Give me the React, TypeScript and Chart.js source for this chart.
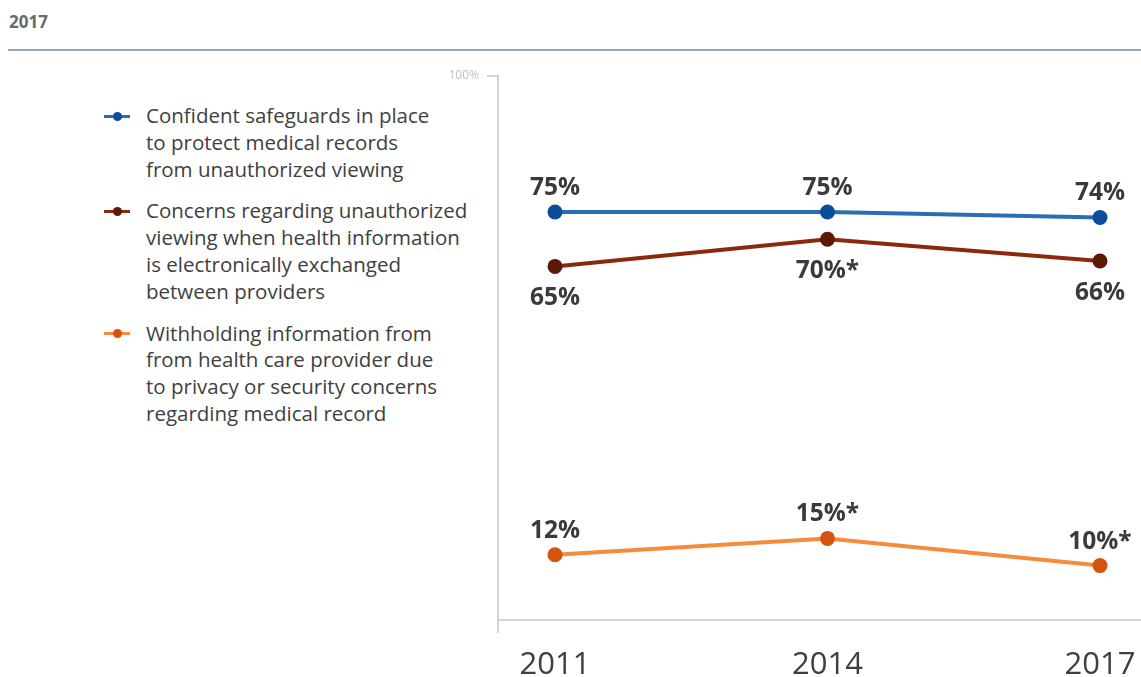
import React, { useEffect, useRef } from 'react';
import { Chart, registerables } from 'chart.js';

Chart.register(...registerables);

const years = [2011, 2014, 2017];
const safeguards = [75, 75, 74];
const concerns = [65, 70, 66];
const withholding = [12, 15, 10];
const safeguardsLabels = ['75%', '75%', '74%'];
const concernsLabels = ['65%', '70%*', '66%'];
const withholdingLabels = ['12%', '15%*', '10%*'];
const yTickValues = [100];
const headerTitle = '2017';

const seriesNames = [
  'Confident safeguards in place to protect medical records from unauthorized viewing',
  'Concerns regarding unauthorized viewing when health information is electronically exchanged between providers',
  'Withholding information from from health care provider due to privacy or security concerns regarding medical record',
];
const legendLines = [
  ['Confident safeguards in place', 'to protect medical records', 'from unauthorized viewing'],
  ['Concerns regarding unauthorized', 'viewing when health information', 'is electronically exchanged', 'between providers'],
  ['Withholding information from', 'from health care provider due', 'to privacy or security concerns', 'regarding medical record'],
];
const lineColors = ['#2a6db5', '#8a2a0b', '#f78b3c'];
const pointColors = ['#0b4d9b', '#5c1a06', '#d4530f'];

const FONT = '"Open Sans", "Noto Sans", sans-serif';

const pointLabelPlugin = {
  id: 'pointLabels',
  afterDatasetsDraw(chart: any) {
    const ctx = chart.ctx;
    chart.data.datasets.forEach((ds: any, i: number) => {
      const meta = chart.getDatasetMeta(i);
      meta.data.forEach((pt: any, j: number) => {
        const text = ds.pointLabels[j];
        const above = ds.labelAbove;
        ctx.save();
        ctx.font = `bold 24.5px ${FONT}`;
        ctx.fillStyle = '#3a3a3a';
        ctx.textAlign = 'center';
        ctx.textBaseline = 'middle';
        ctx.fillText(text, pt.x, above ? pt.y - 24 : pt.y + 32);
        ctx.restore();
      });
    });
  },
};

const axisExtPlugin = {
  id: 'axisExt',
  afterDraw(chart: any) {
    const { ctx, chartArea } = chart;
    ctx.save();
    ctx.strokeStyle = '#d3d3d3';
    ctx.lineWidth = 2;
    ctx.beginPath();
    ctx.moveTo(chartArea.left, chartArea.bottom);
    ctx.lineTo(chartArea.left, chartArea.bottom + 13);
    ctx.stroke();
    ctx.restore();
  },
};

function makeDataset(idx: number, values: number[], labels: string[], above: boolean) {
  return {
    label: seriesNames[idx],
    data: values.map((v, k) => ({ x: years[k], y: v })),
    borderColor: lineColors[idx],
    backgroundColor: pointColors[idx],
    pointBackgroundColor: pointColors[idx],
    pointBorderColor: pointColors[idx],
    borderWidth: 4,
    pointRadius: 7.5,
    pointBorderWidth: 0,
    tension: 0,
    pointLabels: labels,
    labelAbove: above,
  } as any;
}

function Legend() {
  return (
    <div style={{ position: 'absolute', left: 104, top: 102, fontFamily: FONT, fontSize: 20.5, color: '#404040', lineHeight: '26.8px' }}>
      {legendLines.map((lines, i) => (
        <div key={i} style={{ display: 'flex', alignItems: 'flex-start', marginBottom: 15 }}>
          <div style={{ position: 'relative', width: 26, height: 27, marginRight: 16, flex: 'none' }}>
            <div style={{ position: 'absolute', left: 0, top: 12.5, width: 26, height: 3, background: lineColors[i] }} />
            <div style={{ position: 'absolute', left: 8.5, top: 9.5, width: 9, height: 9, borderRadius: '50%', background: pointColors[i] }} />
          </div>
          <div>
            {lines.map((l, k) => (
              <div key={k} style={{ whiteSpace: 'nowrap' }}>{l}</div>
            ))}
          </div>
        </div>
      ))}
    </div>
  );
}

export default function App() {
  const canvasRef = useRef<HTMLCanvasElement | null>(null);

  useEffect(() => {
    if (!canvasRef.current) return;
    const chart = new Chart(canvasRef.current, {
      type: 'line',
      data: {
        datasets: [
          makeDataset(0, safeguards, safeguardsLabels, true),
          makeDataset(1, concerns, concernsLabels, false),
          makeDataset(2, withholding, withholdingLabels, true),
        ],
      },
      options: {
        animation: false,
        responsive: true,
        maintainAspectRatio: false,
        layout: { autoPadding: false, padding: { left: 438, top: 76, right: 0, bottom: 0 } },
        plugins: { legend: { display: false }, tooltip: { enabled: false } },
        scales: {
          x: {
            type: 'linear',
            min: 2010.3725,
            max: 2017.4514,
            afterBuildTicks: (s: any) => {
              s.ticks = years.map((v) => ({ value: v }));
            },
            afterFit: (s: any) => {
              s.height = 57;
              s.paddingLeft = 0;
              s.paddingRight = 0;
            },
            grid: { display: false, drawTicks: false },
            border: { display: true, color: '#d3d3d3', width: 2 },
            ticks: {
              callback: (v: any) => String(v),
              font: { family: FONT, size: 31 },
              color: '#404040',
              padding: 27,
              maxRotation: 0,
            },
          },
          y: {
            type: 'linear',
            min: 0,
            max: 100,
            afterBuildTicks: (s: any) => {
              s.ticks = yTickValues.map((v) => ({ value: v }));
            },
            afterFit: (s: any) => {
              s.width = 60;
              s.paddingTop = 0;
              s.paddingBottom = 0;
            },
            grid: { display: true, drawOnChartArea: false, drawTicks: true, tickLength: 11, color: '#d3d3d3', lineWidth: 2 },
            border: { display: true, color: '#d3d3d3', width: 2 },
            ticks: {
              callback: (v: any) => v + '%',
              font: { family: FONT, size: 12 },
              color: '#c0c0c0',
              padding: 8,
            },
          },
        },
      },
      plugins: [pointLabelPlugin, axisExtPlugin],
    });
    return () => chart.destroy();
  }, []);

  return (
    <div style={{ position: 'fixed', left: 0, top: 0, width: 1141, height: 677, background: '#fff' }}>
      <div style={{ position: 'absolute', left: 9, top: 10, fontFamily: FONT, fontWeight: 'bold', fontSize: 17, lineHeight: '24px', color: '#6a6a6a' }}>
        {headerTitle}
      </div>
      <div style={{ position: 'absolute', left: 8, top: 49, width: 1133, height: 2, background: '#95a7c3' }} />
      <Legend />
      <div style={{ position: 'absolute', left: 0, top: 0, width: 1141, height: 677 }}>
        <canvas ref={canvasRef} />
      </div>
    </div>
  );
}
